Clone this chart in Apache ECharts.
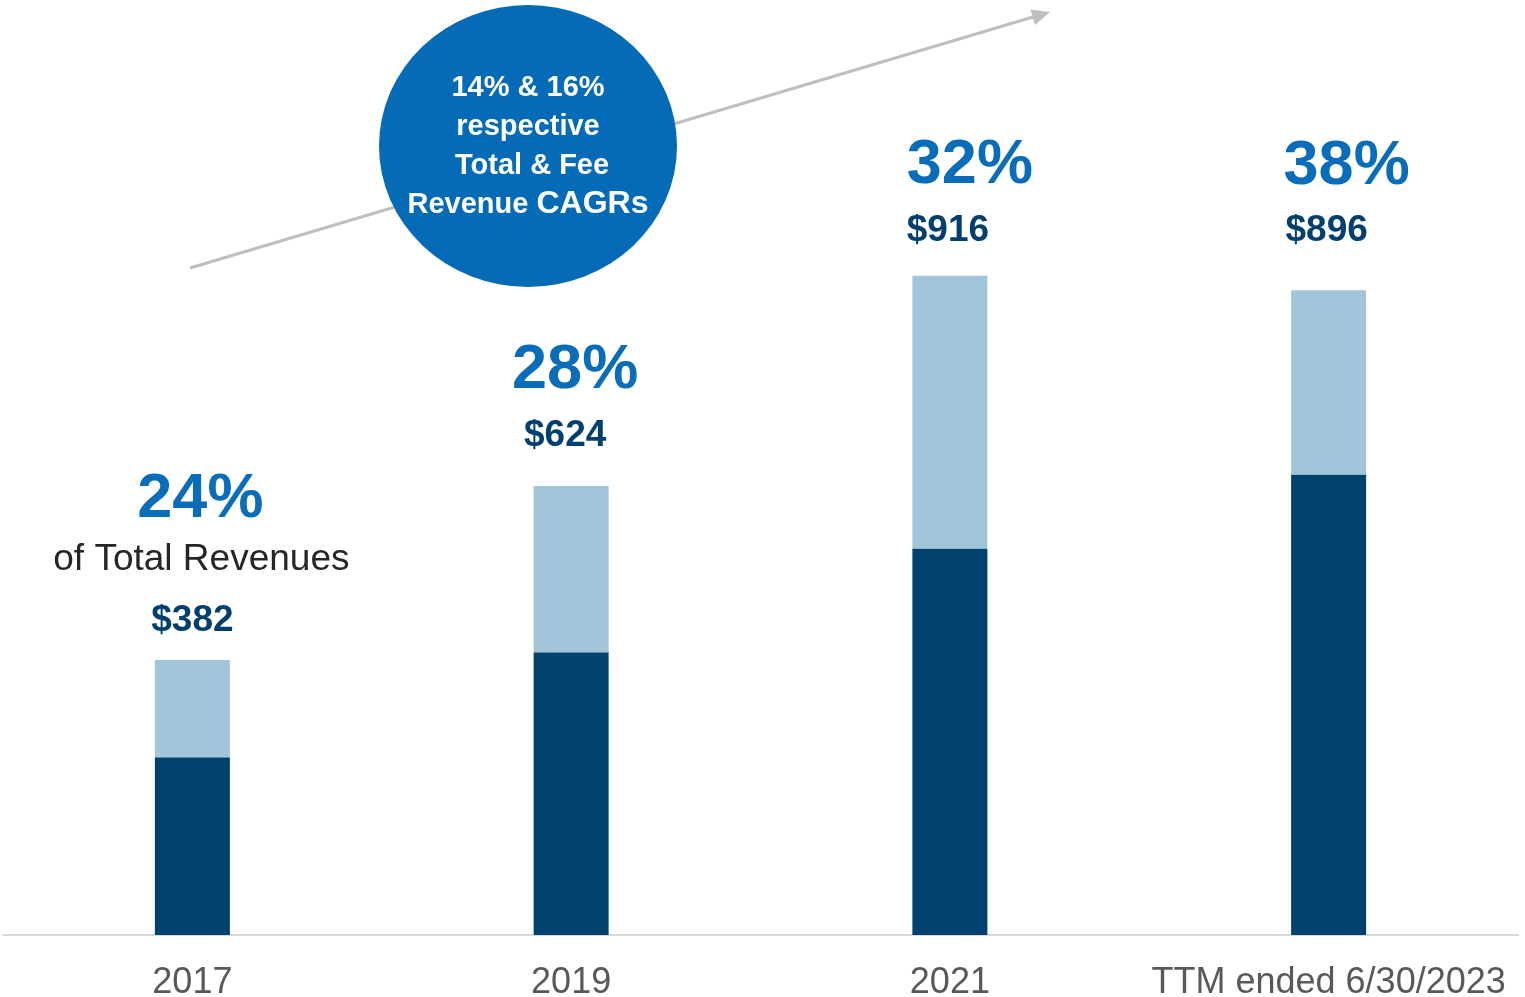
<!DOCTYPE html>
<html>
<head>
<meta charset="utf-8">
<style>
  html, body { margin: 0; padding: 0; background: #fff; }
  #main { width: 1525px; height: 997px; }
</style>
<script src="https://cdn.jsdelivr.net/npm/echarts@6/dist/echarts.min.js"></script>
</head>
<body>
<div id="main"></div>
<script>
// data
var categories = ['2017', '2019', '2021', 'TTM ended 6/30/2023'];
var feeRevenue = [247, 393, 537, 640];
var otherRevenue = [135, 231, 379, 256];
var totalRevenue = [382, 624, 916, 896];
var feeShare = ['24%', '28%', '32%', '38%'];

// label placement tweaks (px)
var labelDistance = [6, 17, 12, 26];
var labelShiftX = [0, -6, -2, -2];
var pctShiftX = [8, 10, 22, 20];

var FONT = '"Liberation Sans", Arial, sans-serif';
var chart = echarts.init(document.getElementById('main'));

var rich = {
    sub: { fontFamily: FONT, fontSize: 37, color: '#262626', lineHeight: 56, padding: [0, 0, 0, 18] },
    d: { fontFamily: FONT, fontSize: 37, fontWeight: 'bold', color: '#003F6E', lineHeight: 66 }
};
feeShare.forEach(function (p, i) {
    rich['p' + i] = {
        fontFamily: FONT, fontSize: 63, fontWeight: 'bold', color: '#0A6DBA',
        lineHeight: 64, padding: [0, 0, 0, pctShiftX[i] * 2]
    };
});

var topData = otherRevenue.map(function (v, i) {
    return {
        value: v,
        label: { distance: labelDistance[i], offset: [labelShiftX[i], 0] }
    };
});

var option = {
    animation: false,
    grid: { left: 3, right: 7, top: 3, bottom: 62, containLabel: false, outerBoundsMode: 'none' },
    xAxis: {
        type: 'category',
        data: categories,
        axisLine: { lineStyle: { color: '#D9D9D9', width: 2 } },
        axisTick: { show: false },
        axisLabel: { interval: 0, fontFamily: FONT, fontSize: 36, color: '#595959', margin: 30 }
    },
    yAxis: {
        type: 'value',
        min: 0,
        max: 1295,
        show: false,
        splitLine: { show: false }
    },
    series: [
        {
            name: 'Fee',
            type: 'bar',
            stack: 'rev',
            barWidth: 75,
            itemStyle: { color: '#00416E' },
            data: feeRevenue
        },
        {
            name: 'Other',
            type: 'bar',
            stack: 'rev',
            barWidth: 75,
            itemStyle: { color: '#A1C6DA' },
            label: {
                show: true,
                position: 'top',
                align: 'center',
                formatter: function (params) {
                    var i = params.dataIndex;
                    var s = '{p' + i + '|' + feeShare[i] + '}\n';
                    if (i === 0) s += '{sub|of Total Revenues}\n';
                    return s + '{d|$' + totalRevenue[i] + '}';
                },
                rich: rich
            },
            data: topData
        }
    ],
    graphic: [
        {
            type: 'line',
            shape: { x1: 190, y1: 268, x2: 1033, y2: 17 },
            style: { stroke: '#BFBFBF', lineWidth: 3 },
            z: 1
        },
        {
            type: 'polygon',
            shape: { points: [[1050, 12], [1035, 25], [1030.4, 9.4]] },
            style: { fill: '#BFBFBF' },
            z: 1
        },
        {
            type: 'circle',
            x: 528, y: 146,
            scaleY: 141 / 149,
            shape: { cx: 0, cy: 0, r: 149 },
            style: { fill: '#066BB6' },
            z: 2
        },
        {
            type: 'text',
            x: 528, y: 146,
            style: {
                text: '{a|14% & 16%}\n{a|respective}\n{a| Total & Fee}\n{a|Revenue }{b|CAGRs}',
                fill: '#fff',
                align: 'center',
                verticalAlign: 'middle',
                rich: {
                    a: { fill: '#fff', font: 'bold 29px ' + FONT, lineHeight: 39 },
                    b: { fill: '#fff', font: 'bold 32px ' + FONT, lineHeight: 39 }
                }
            },
            z: 3
        }
    ]
};

chart.setOption(option);
</script>
</body>
</html>
